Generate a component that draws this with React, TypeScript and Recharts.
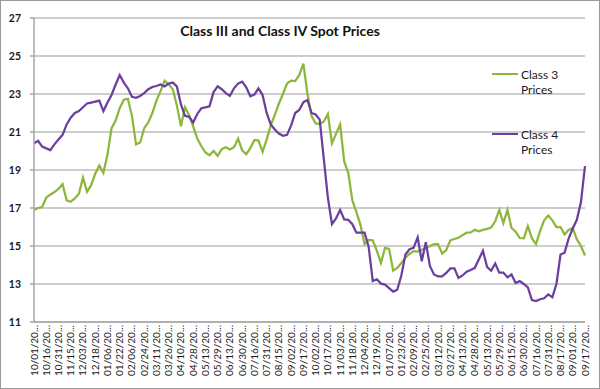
import { LineChart, Line, XAxis, YAxis, CartesianGrid, Legend } from "recharts";

const FONT = "Lato, 'Open Sans', sans-serif";

const tickLabels = [
  "10/01/20...", "10/16/20...", "10/31/20...", "11/15/20...", "12/03/20...", "12/18/20...",
  "01/06/20...", "01/22/20...", "02/06/20...", "02/24/20...", "03/11/20...", "03/26/20...",
  "04/10/20...", "04/28/20...", "05/13/20...", "05/29/20...", "06/13/20...", "06/30/20...",
  "07/16/20...", "07/31/20...", "08/15/20...", "09/02/20...", "09/17/20...", "10/02/20...",
  "10/17/20...", "11/03/20...", "11/18/20...", "12/04/20...", "12/19/20...", "01/07/20...",
  "01/23/20...", "02/09/20...", "02/25/20...", "03/12/20...", "03/27/20...", "04/13/20...",
  "04/28/20...", "05/13/20...", "05/29/20...", "06/15/20...", "06/30/20...", "07/16/20...",
  "07/31/20...", "08/17/20...", "09/01/20...", "09/17/20...",
];

// three readings per labelled interval
const class3 = [
  16.9, 17.0, 17.05, 17.55, 17.7, 17.84, 18.0, 18.25, 17.4, 17.33,
  17.5, 17.75, 18.6, 17.85, 18.2, 18.8, 19.24, 18.85, 19.8, 21.2,
  21.6, 22.25, 22.7, 22.75, 21.85, 20.35, 20.45, 21.2, 21.5, 22.0,
  22.65, 23.15, 23.7, 23.5, 23.25, 22.4, 21.3, 22.3, 21.88, 21.3,
  20.65, 20.25, 19.92, 19.78, 20.0, 19.75, 20.1, 20.2, 20.08, 20.2,
  20.65, 20.03, 19.83, 20.15, 20.58, 20.55, 19.96, 20.6, 21.35, 21.9,
  22.5, 23.0, 23.55, 23.7, 23.68, 24.0, 24.6, 23.0, 21.85, 21.45,
  21.42, 21.55, 21.95, 20.4, 20.9, 21.4, 19.45, 18.85, 17.4, 16.78,
  16.1, 15.1, 15.32, 15.3, 14.75, 14.1, 14.9, 14.85, 13.7, 13.85,
  14.1, 14.38, 14.58, 14.73, 14.71, 14.8, 14.9, 15.0, 15.1, 15.1,
  14.6, 14.78, 15.3, 15.37, 15.43, 15.57, 15.7, 15.71, 15.85, 15.77,
  15.85, 15.9, 15.97, 16.3, 16.9, 16.2, 16.9, 15.95, 15.75, 15.42,
  15.4, 16.05, 15.4, 15.1, 15.8, 16.35, 16.6, 16.35, 16.0, 16.0,
  15.6, 15.85, 15.95, 15.35, 15.0, 14.5,
];

const class4 = [
  20.4, 20.54, 20.23, 20.14, 20.05, 20.35, 20.6, 20.85, 21.4, 21.75,
  22.0, 22.1, 22.3, 22.5, 22.55, 22.6, 22.65, 22.1, 22.55, 22.95,
  23.5, 24.0, 23.6, 23.3, 22.85, 22.8, 22.9, 23.05, 23.25, 23.37,
  23.42, 23.5, 23.4, 23.55, 23.6, 23.4, 22.45, 21.85, 21.8, 21.5,
  21.95, 22.25, 22.3, 22.35, 23.1, 23.4, 23.25, 23.05, 22.9, 23.3,
  23.55, 23.65, 23.35, 22.88, 22.97, 23.3, 22.95, 22.0, 21.4, 21.13,
  20.92, 20.8, 20.85, 21.35, 22.0, 22.16, 22.57, 22.68, 22.0, 21.92,
  21.65, 19.6, 17.55, 16.15, 16.45, 16.9, 16.4, 16.38, 16.15, 15.7,
  15.7, 15.7, 14.95, 13.15, 13.25, 13.02, 12.97, 12.78, 12.6, 12.7,
  13.45, 14.55, 14.83, 14.9, 15.45, 14.2, 15.2, 13.95, 13.5, 13.4,
  13.4, 13.58, 13.82, 13.82, 13.32, 13.45, 13.65, 13.74, 13.85, 14.3,
  14.75, 13.9, 13.7, 14.08, 13.6, 13.6, 13.35, 13.5, 13.05, 13.15,
  13.0, 12.82, 12.15, 12.1, 12.2, 12.25, 12.45, 12.3, 13.0, 14.55,
  14.65, 15.4, 15.92, 16.38, 17.3, 19.2,
];

const yTicks = [11, 13, 15, 17, 19, 21, 23, 25, 27];

const STEP = 3;
const data = class3.map((v, i) => ({ day: i, class3: v, class4: class4[i] }));
const xTicks = tickLabels.map((_, k) => k * STEP);

const GREEN = "#8DB63C";
const PURPLE = "#6B3FA0";

function DateTick(props: any) {
  const { x, y, payload } = props;
  return (
    <text
      x={x}
      y={y}
      dy="0.35em"
      transform={`rotate(-90, ${x}, ${y})`}
      textAnchor="end"
      fontSize={10}
      fill="#1a1a1a"
      fontFamily={FONT}
    >
      {tickLabels[Math.round(payload.value / STEP)]}
    </text>
  );
}

function LegendBox() {
  const items = [
    { label: "Class 3", color: GREEN },
    { label: "Class 4", color: PURPLE },
  ];
  return (
    <div style={{ fontFamily: FONT, fontSize: 12, color: "#1a1a1a", lineHeight: "15px" }}>
      {items.map((it) => (
        <div key={it.label} style={{ position: "relative", height: 60 }}>
          <div
            style={{
              position: "absolute",
              left: 0,
              top: 6,
              width: 26,
              height: 2,
              background: it.color,
            }}
          />
          <div style={{ position: "absolute", left: 29, top: 0 }}>
            {it.label}
            <br />
            Prices
          </div>
        </div>
      ))}
    </div>
  );
}

export default function App() {
  return (
    <div
      style={{
        position: "absolute",
        left: 0,
        top: 0,
        width: 600,
        height: 389,
        background: "#fff",
        border: "1px solid #9a9a9a",
        boxSizing: "border-box",
      }}
    >
      <div
        style={{
          position: "absolute",
          left: 0,
          top: 22,
          width: 558,
          textAlign: "center",
          fontFamily: FONT,
          fontWeight: 700,
          fontSize: 14,
          lineHeight: "16px",
          color: "#111",
        }}
      >
        Class III and Class IV Spot Prices
      </div>
      <LineChart
        width={598}
        height={387}
        data={data}
        margin={{ top: 17, right: 14, left: 0, bottom: 0 }}
        style={{ position: "absolute", left: 0, top: 0 }}
      >
        <CartesianGrid vertical={false} stroke="#BDBDBD" strokeWidth={1.5} />
        <XAxis
          type="number"
          dataKey="day"
          domain={[0, (tickLabels.length - 1) * STEP]}
          ticks={xTicks}
          interval={0}
          tick={<DateTick />}
          tickLine={false}
          tickSize={0}
          tickMargin={3}
          height={66}
          axisLine={{ stroke: "#A6A6A6", strokeWidth: 1.5 }}
        />
        <YAxis
          domain={[11, 27]}
          ticks={yTicks}
          interval={0}
          width={33}
          tickSize={4}
          tickMargin={9}
          axisLine={{ stroke: "#A6A6A6", strokeWidth: 1.5 }}
          tickLine={{ stroke: "#A6A6A6", strokeWidth: 1.5 }}
          tick={{ fontSize: 10.5, fontWeight: 700, fill: "#1a1a1a", fontFamily: FONT }}
        />
        <Legend
          layout="vertical"
          align="center"
          verticalAlign="middle"
          wrapperStyle={{ left: 491, top: 66, width: 100 }}
          content={() => <LegendBox />}
        />
        <Line
          type="linear"
          dataKey="class3"
          name="Class 3 Prices"
          stroke={GREEN}
          strokeWidth={2.25}
          dot={false}
          isAnimationActive={false}
        />
        <Line
          type="linear"
          dataKey="class4"
          name="Class 4 Prices"
          stroke={PURPLE}
          strokeWidth={2.25}
          dot={false}
          isAnimationActive={false}
        />
      </LineChart>
    </div>
  );
}
